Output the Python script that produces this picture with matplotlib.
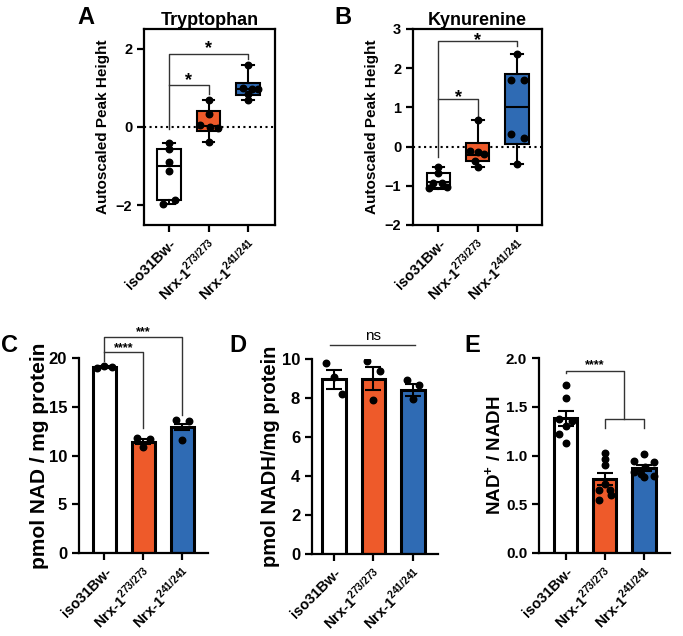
import numpy as np
import matplotlib
matplotlib.use('Agg')
import matplotlib.pyplot as plt

plt.rcParams['font.family'] = ['Liberation Sans', 'DejaVu Sans']
plt.rcParams['font.weight'] = 'bold'
plt.rcParams['axes.labelweight'] = 'bold'
plt.rcParams['mathtext.fontset'] = 'custom'
plt.rcParams['mathtext.rm'] = 'Liberation Sans'
plt.rcParams['mathtext.bf'] = 'Liberation Sans:bold'

groups = ['iso31Bw-', r'Nrx-1$^{\mathrm{273/273}}$', r'Nrx-1$^{\mathrm{241/241}}$']
colors = ['white', '#EE5A2A', '#2F6BB4']

# A - tryptophan, box stats (min, q1, median, q3, max) + points
trp_min = [-1.97, -0.37, 0.68]
trp_q1 = [-1.87, -0.09, 0.82]
trp_med = [-1.00, 0.03, 0.98]
trp_q3 = [-0.57, 0.41, 1.11]
trp_max = [-0.41, 0.69, 1.57]
trp_pts = [[-0.41, -0.57, -0.89, -1.13, -1.86, -1.97],
           [0.69, 0.34, 0.05, 0.00, -0.02, -0.37],
           [1.57, 1.00, 0.98, 0.97, 0.85, 0.68]]

# B - kynurenine
kyn_min = [-1.09, -0.53, -0.44]
kyn_q1 = [-1.05, -0.38, 0.07]
kyn_med = [-0.90, -0.21, 1.00]
kyn_q3 = [-0.67, 0.08, 1.84]
kyn_max = [-0.53, 0.67, 2.37]
kyn_pts = [[-0.53, -0.67, -0.92, -0.92, -1.05, -1.02],
           [0.67, -0.10, -0.15, -0.19, -0.38, -0.52],
           [2.35, 1.69, 1.69, 0.33, 0.22, -0.44]]

# C - NAD
nad_mean = [19.05, 11.40, 12.90]
nad_sem = [0.10, 0.25, 0.30]
nad_pts = [[19.0, 19.2, 19.1], [11.75, 11.70, 10.90], [13.65, 13.50, 11.60]]

# D - NADH
nadh_mean = [8.95, 9.00, 8.41]
nadh_sem = [0.47, 0.60, 0.33]
nadh_pts = [[9.78, 9.10, 8.20], [9.91, 9.40, 7.90], [8.92, 8.67, 7.93]]

# E - ratio
ratio_mean = [1.38, 0.76, 0.87]
ratio_sem = [0.08, 0.06, 0.03]
ratio_pts = [[1.72, 1.59, 1.37, 1.35, 1.30, 1.22, 1.13],
             [1.03, 0.96, 0.90, 0.71, 0.65, 0.65, 0.59, 0.54],
             [1.02, 0.94, 0.93, 0.88, 0.83, 0.81, 0.79, 0.78]]

# horizontal spread of the dots
jit_box = [[0, 0, 0, 0, 0.15, -0.15], [0, 0, -0.22, 0.05, 0.25, 0], [0, -0.12, 0.1, 0.25, 0, 0]]
jit_boxB = [[0, 0, -0.13, 0.1, -0.25, 0.22], [0, -0.2, 0.0, 0.17, -0.08, 0], [0, -0.16, 0.17, -0.16, 0.17, 0]]
jit_bar3 = [[-0.2, 0.0, 0.2], [-0.17, 0.17, 0.0], [-0.15, 0.17, 0.0]]
jit_E = [[0, 0, -0.17, 0.17, 0, -0.17, 0],
         [0, 0, 0, 0.0, -0.14, 0.14, 0.15, -0.14],
         [0, -0.25, 0.26, 0.03, -0.25, -0.08, 0.25, 0.0]]

fig = plt.figure(figsize=(6.83, 6.36), dpi=100)
W, H = 683, 636

def add_ax(l, t, r, b):
    return fig.add_axes([l / W, 1 - b / H, (r - l) / W, (b - t) / H])

def style(ax, box=False):
    for s in ['top', 'right']:
        ax.spines[s].set_visible(box)
    for s in ax.spines.values():
        s.set_linewidth(1.6)
    ax.tick_params(width=1.6, length=5, labelsize=10.5)
    ax.set_xticks([0, 1, 2])
    ax.set_xticklabels(groups, rotation=45, ha='right', rotation_mode='anchor', fontsize=10.5)

def bracket(ax, x0, x1, y, y0, y1, txt, fs, dy):
    ax.plot([x0, x0, x1, x1], [y0, y, y, y1], color='#333333', lw=1, clip_on=False)
    ax.text((x0 + x1) / 2, y + dy, txt, ha='center', va='baseline', fontsize=fs, clip_on=False)

def boxpanel(ax, mins, q1, med, q3, maxs, pts, jit):
    stats = []
    for i in range(3):
        stats.append({'whislo': mins[i], 'q1': q1[i], 'med': med[i], 'q3': q3[i], 'whishi': maxs[i]})
    bp = ax.bxp(stats, positions=[0, 1, 2], widths=0.6, showfliers=False, patch_artist=True,
                capwidths=0.3,
                boxprops=dict(linewidth=1.5, edgecolor='black'),
                medianprops=dict(color='black', linewidth=1.5),
                whiskerprops=dict(linewidth=1.5), capprops=dict(linewidth=1.5))
    for patch, c in zip(bp['boxes'], colors):
        patch.set_facecolor(c)
    for i in range(3):
        ax.scatter(np.array(jit[i]) + i, pts[i], s=22, color='black', zorder=5)
    ax.axhline(0, color='black', ls=':', lw=1.5, zorder=0)

def barpanel(ax, means, sems, pts, jit):
    x = np.arange(3)
    ax.bar(x, means, width=0.6, color=colors, edgecolor='black', linewidth=2.2, zorder=2)
    ax.errorbar(x, means, yerr=sems, fmt='none', ecolor='black', elinewidth=1.5, capsize=6, capthick=1.5, zorder=3)
    for i in range(3):
        ax.scatter(np.array(jit[i]) + i, pts[i], s=22, color='black', zorder=4)

# A
axA = add_ax(144, 29, 275, 225)
boxpanel(axA, trp_min, trp_q1, trp_med, trp_q3, trp_max, trp_pts, jit_box)
axA.set_xlim(-0.63, 2.68)
axA.set_ylim(-2.5, 2.5)
axA.set_yticks([-2, 0, 2])
style(axA, box=True)
axA.set_ylabel('Autoscaled Peak Height', fontsize=11)
axA.set_title('Tryptophan', fontsize=13, fontweight='bold', pad=3)
bracket(axA, 0, 2, 1.87, -0.04, 1.74, '*', 13, 0.02)
bracket(axA, 0, 1, 1.06, 1.06, 0.85, '*', 13, 0.02)

# B
axB = add_ax(413, 29, 542, 225)
boxpanel(axB, kyn_min, kyn_q1, kyn_med, kyn_q3, kyn_max, kyn_pts, jit_boxB)
axB.set_xlim(-0.65, 2.64)
axB.set_ylim(-2, 3)
axB.set_yticks([-2, -1, 0, 1, 2, 3])
style(axB, box=True)
axB.set_ylabel('Autoscaled Peak Height', fontsize=11)
axB.set_title('Kynurenine', fontsize=13, fontweight='bold', pad=3)
bracket(axB, 0, 2, 2.69, -0.26, 2.56, '*', 13, -0.1)
bracket(axB, 0, 1, 1.21, 1.21, 0.77, '*', 13, -0.07)

# C
axC = add_ax(79, 358, 208, 553)
barpanel(axC, nad_mean, nad_sem, nad_pts, jit_bar3)
axC.set_xlim(-0.65, 2.66)
axC.set_ylim(0, 20)
axC.set_yticks([0, 5, 10, 15, 20])
style(axC)
axC.tick_params(axis='y', labelsize=12)
axC.set_ylabel('pmol NAD / mg protein', fontsize=15, labelpad=0)
bracket(axC, 0, 2, 22.2, 19.7, 14.2, '***', 9, 0.15)
bracket(axC, 0, 1, 20.6, 20.6, 12.8, '****', 9, 0.15)

# D
axD = add_ax(312, 359, 438, 554)
barpanel(axD, nadh_mean, nadh_sem, nadh_pts, jit_bar3)
axD.set_xlim(-0.56, 2.64)
axD.set_ylim(0, 10)
axD.set_yticks([0, 2, 4, 6, 8, 10])
style(axD)
axD.tick_params(axis='y', labelsize=12)
axD.set_ylabel('pmol NADH/mg protein', fontsize=14.5, labelpad=1)
axD.plot([-0.1, 2.05], [10.7, 10.7], color='#333333', lw=1, clip_on=False)
axD.text(1, 10.95, 'ns', ha='center', va='baseline', fontsize=11, fontweight='normal', clip_on=False)

# E
axE = add_ax(539, 358, 670, 553)
barpanel(axE, ratio_mean, ratio_sem, ratio_pts, jit_E)
axE.set_xlim(-0.68, 2.67)
axE.set_ylim(0, 2)
axE.set_yticks([0, 0.5, 1.0, 1.5, 2.0])
axE.yaxis.set_major_formatter(matplotlib.ticker.FormatStrFormatter('%.1f'))
style(axE)
axE.tick_params(axis='y', labelsize=11)
axE.set_ylabel(r'NAD$^{\mathbf{+}}$ / NADH', fontsize=13.5, labelpad=1)
bracket(axE, 0, 1.5, 1.87, 1.85, 1.375, '****', 9, 0.03)
bracket(axE, 1, 2, 1.375, 1.28, 1.28, '', 9, 0.0)

# panel letters
for lab, x, y in [('A', 86, 17), ('B', 343, 17), ('C', 9, 345), ('D', 238, 345), ('E', 472, 345)]:
    fig.text(x / W, 1 - y / H, lab, fontsize=17, fontweight='bold', ha='center', va='center')

fig.savefig('out.png', dpi=100)
